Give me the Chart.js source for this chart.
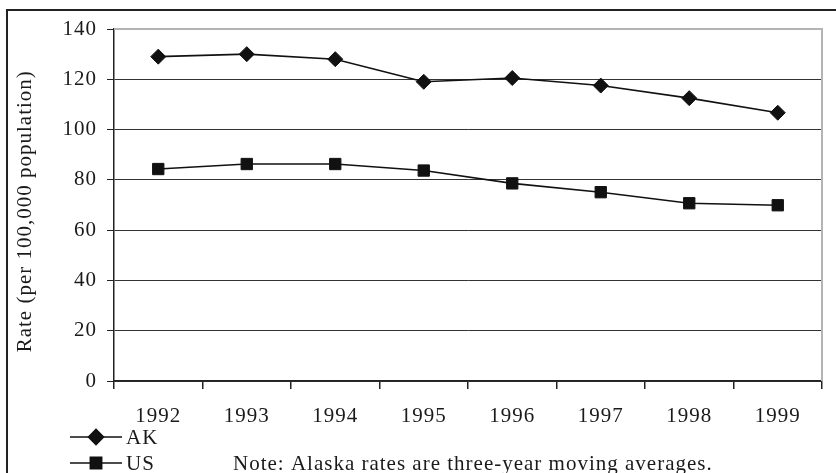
<!DOCTYPE html>
<html>
<head>
<meta charset="utf-8">
<script src="https://cdn.jsdelivr.net/npm/chart.js@4.4.0/dist/chart.umd.min.js"></script>
<style>
  html, body { margin: 0; padding: 0; background: #fff; }
  #wrap { position: relative; width: 836px; height: 473px; }
</style>
</head>
<body>
<div id="wrap"><canvas id="chart" width="836" height="473"></canvas></div>
<script>
var years = ['1992', '1993', '1994', '1995', '1996', '1997', '1998', '1999'];
var akRates = [129, 130, 128, 119, 120.5, 117.5, 112.5, 106.7];
var usRates = [84.3, 86.3, 86.3, 83.7, 78.6, 75.1, 70.7, 69.9];
var yTicks = [0, 20, 40, 60, 80, 100, 120, 140];
var yTitle = 'Rate (per 100,000 population)  ';
var noteText = 'Note: Alaska rates are three-year moving averages.';

var serif = "'Liberation Serif', 'DejaVu Serif', serif";
var fontSize = 21;
var textColor = '#1a1a1a';
var spacing = '1px';

// canvas letter spacing so the serif text gets the wide look of the original
var spacingPlugin = {
    id: 'spacing',
    beforeLayout: function (chart) { chart.ctx.letterSpacing = spacing; },
    beforeDraw: function (chart) { chart.ctx.letterSpacing = spacing; }
};

// outer frame, plot frame, legend and note
var decorPlugin = {
    id: 'decor',
    afterDraw: function (chart) {
        var ctx = chart.ctx;
        var area = chart.chartArea;
        ctx.save();
        ctx.letterSpacing = spacing;

        // gray plot border top and right
        ctx.strokeStyle = '#b4b4b4';
        ctx.lineWidth = 2;
        ctx.beginPath();
        ctx.moveTo(area.left, area.top);
        ctx.lineTo(area.right, area.top);
        ctx.lineTo(area.right, area.bottom);
        ctx.stroke();

        // outer frame
        ctx.strokeStyle = '#222';
        ctx.lineWidth = 2;
        ctx.beginPath();
        ctx.moveTo(7, chart.height);
        ctx.lineTo(7, 10);
        ctx.lineTo(chart.width, 10);
        ctx.stroke();

        // legend
        var rowsY = [437, 463];
        chart.data.datasets.forEach(function (ds, i) {
            var y = rowsY[i];
            ctx.strokeStyle = ds.borderColor;
            ctx.lineWidth = ds.borderWidth;
            ctx.beginPath();
            ctx.moveTo(70, y);
            ctx.lineTo(122, y);
            ctx.stroke();
            Chart.helpers.drawPoint(ctx, {
                pointStyle: ds.pointStyle,
                radius: ds.pointRadius,
                borderWidth: 1
            }, 96, y);
            ctx.fillStyle = ds.pointBackgroundColor;
            ctx.fill();
            ctx.fillStyle = textColor;
            ctx.font = fontSize + 'px ' + serif;
            ctx.textAlign = 'left';
            ctx.textBaseline = 'middle';
            ctx.fillText(ds.label, 126, y + 1);
        });

        // note
        ctx.fillStyle = textColor;
        ctx.font = fontSize + 'px ' + serif;
        ctx.textAlign = 'left';
        ctx.textBaseline = 'middle';
        ctx.fillText(noteText, 233, 464);
        ctx.restore();
    }
};

var chartCanvas = document.getElementById('chart');
var chart = new Chart(chartCanvas, {
    type: 'line',
    data: {
        labels: years,
        datasets: [
            {
                label: 'AK',
                data: akRates,
                borderColor: '#111',
                borderWidth: 1.6,
                pointStyle: 'rectRot',
                pointRadius: 7.5,
                pointBackgroundColor: '#111',
                pointBorderColor: '#111',
                pointBorderWidth: 1,
                tension: 0
            },
            {
                label: 'US',
                data: usRates,
                borderColor: '#111',
                borderWidth: 1.6,
                pointStyle: 'rect',
                pointRadius: 8,
                pointBackgroundColor: '#111',
                pointBorderColor: '#111',
                pointBorderWidth: 1,
                tension: 0
            }
        ]
    },
    options: {
        responsive: false,
        animation: false,
        events: [],
        layout: {
            padding: { left: 0, top: 29, right: 14, bottom: 0 }
        },
        plugins: {
            legend: { display: false },
            tooltip: { enabled: false }
        },
        scales: {
            x: {
                type: 'category',
                offset: true,
                afterFit: function (scale) { scale.height = 92; },
                grid: {
                    offset: true,
                    drawOnChartArea: false,
                    drawTicks: true,
                    tickLength: 8,
                    tickColor: '#222',
                    lineWidth: 1.5
                },
                border: { color: '#222', width: 1.5 },
                ticks: {
                    color: textColor,
                    padding: 15,
                    maxRotation: 0,
                    font: { family: serif, size: fontSize }
                }
            },
            y: {
                min: 0,
                max: 140,
                afterFit: function (scale) { scale.width = 114; },
                afterBuildTicks: function (scale) {
                    scale.ticks = yTicks.map(function (v) { return { value: v }; });
                },
                grid: {
                    color: function (c) { return c.tick && c.tick.value === 140 ? '#b4b4b4' : '#333'; },
                    lineWidth: 1,
                    drawTicks: true,
                    tickLength: 7,
                    tickColor: '#222'
                },
                border: { color: '#222', width: 1.5 },
                ticks: {
                    color: textColor,
                    padding: 10,
                    font: { family: serif, size: fontSize }
                },
                title: {
                    display: true,
                    text: yTitle,
                    color: textColor,
                    padding: { top: 13, bottom: 0 },
                    font: { family: serif, size: fontSize }
                }
            }
        }
    },
    plugins: [spacingPlugin, decorPlugin]
});
</script>
</body>
</html>
